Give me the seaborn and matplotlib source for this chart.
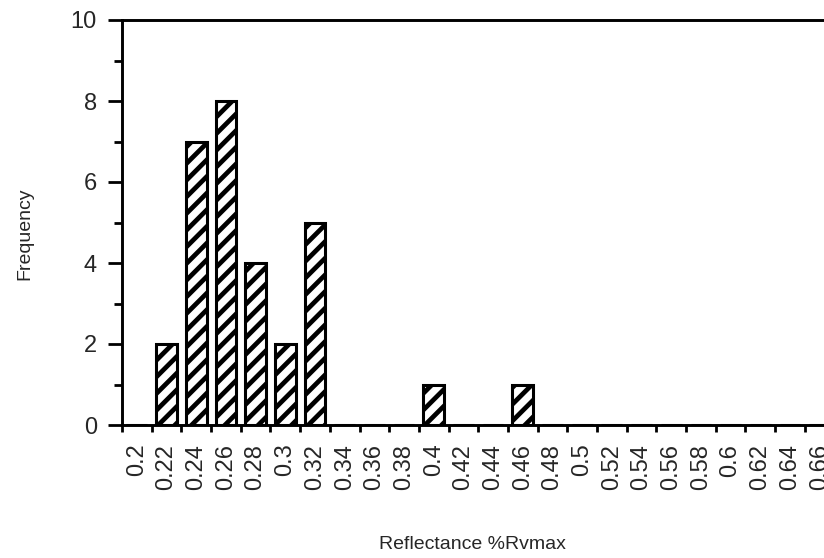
import numpy as np
import pandas as pd
import matplotlib
matplotlib.use("Agg")
import matplotlib.pyplot as plt
import seaborn as sns

# ---- data ----
categories = ["0.2", "0.22", "0.24", "0.26", "0.28", "0.3", "0.32", "0.34", "0.36", "0.38",
              "0.4", "0.42", "0.44", "0.46", "0.48", "0.5", "0.52", "0.54", "0.56", "0.58",
              "0.6", "0.62", "0.64", "0.66"]
frequency = [0, 2, 7, 8, 4, 2, 5, 0, 0, 0,
             1, 0, 0, 1, 0, 0, 0, 0, 0, 0,
             0, 0, 0, 0]
y_ticks = [0, 2, 4, 6, 8, 10]
x_label = "Reflectance %Rvmax"
y_label = "Frequency"

sns.set_style("ticks")
plt.rcParams["font.family"] = ["Liberation Sans", "DejaVu Sans"]
plt.rcParams["hatch.linewidth"] = 3.4
plt.rcParams["hatch.color"] = "black"

df = pd.DataFrame({"cat": categories, "freq": frequency})

fig = plt.figure(figsize=(8.24, 5.58), dpi=100)
ax = fig.add_axes([122 / 824, 1 - 425 / 558, (834.5 - 122) / 824, (425 - 20) / 558])

sns.barplot(data=df, x="cat", y="freq", order=categories, color="white",
            edgecolor="black", linewidth=2.2, width=0.7, saturation=1, ax=ax)
for p in ax.patches:
    p.set_hatch("//")
    p.set_facecolor("white")
    p.set_edgecolor("black")

ax.set_xlim(-0.5, len(categories) - 0.5)
ax.set_ylim(0, 10)

# x ticks: labels at centers, marks at boundaries
ax.set_xticks(range(len(categories)))
ax.set_xticklabels(categories, rotation=90, fontsize=17)
ax.set_xticks(np.arange(-0.5, len(categories), 1), minor=True)
ax.tick_params(axis="x", which="major", length=0, pad=13.5)
ax.tick_params(axis="x", which="minor", length=5, width=2, direction="out", color="black")

# y ticks
ax.set_yticks(y_ticks)
ax.set_yticklabels([str(v) for v in y_ticks], fontsize=17)
ax.set_yticks(np.arange(1, 10, 2), minor=True)
ax.tick_params(axis="y", which="major", length=10, width=2, direction="out", pad=8, color="black")
ax.tick_params(axis="y", which="minor", length=6, width=2, direction="out", color="black")

for s in ["left", "bottom", "top"]:
    ax.spines[s].set_visible(True)
    ax.spines[s].set_linewidth(2.1)
    ax.spines[s].set_color("black")
ax.spines["right"].set_visible(False)

ax.set_xlabel("")
ax.set_ylabel("")
fig.text(472 / 824, 1 - 549 / 558, x_label, ha="center", va="baseline", fontsize=14)
fig.text(24.5 / 824, 1 - 234 / 558, y_label, ha="center", va="center", rotation=90, fontsize=14)

fig.savefig("out.png", dpi=100)
